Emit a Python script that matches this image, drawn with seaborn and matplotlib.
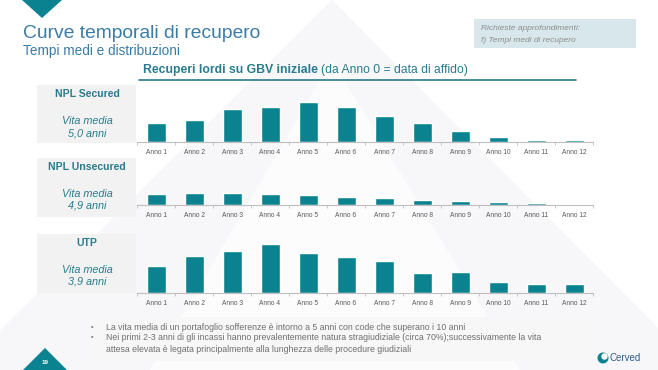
import matplotlib
matplotlib.use("Agg")
import matplotlib.pyplot as plt
from matplotlib.patches import Rectangle, Polygon, Circle
import seaborn as sns
import pandas as pd

# data (approx. % of initial GBV recovered per year)
anni = ["Anno 1", "Anno 2", "Anno 3", "Anno 4", "Anno 5", "Anno 6",
        "Anno 7", "Anno 8", "Anno 9", "Anno 10", "Anno 11", "Anno 12"]
npl_secured = [3.8, 4.4, 6.6, 7.0, 7.9, 6.9, 5.2, 3.8, 2.2, 1.0, 0.4, 0.4]
npl_unsecured = [2.3, 2.5, 2.5, 2.3, 2.0, 1.6, 1.4, 1.0, 0.8, 0.7, 0.5, 0.3]
utp = [5.4, 7.4, 8.5, 9.9, 8.1, 7.3, 6.4, 4.1, 4.3, 2.3, 1.9, 1.9]
nomi = ["NPL Secured", "NPL Unsecured", "UTP"]
vita_media = ["5,0", "4,9", "3,9"]

W, H = 658, 370
TEAL = "#0b8290"
TXT_TEAL = "#2a7c8c"
BLUE = "#3b7ca6"

sns.set_theme(style="white")
plt.rcParams["font.family"] = ["Liberation Sans", "DejaVu Sans"]

fig = plt.figure(figsize=(W / 100, H / 100), dpi=100)
fig.patch.set_facecolor("white")
bg = fig.add_axes([0, 0, 1, 1])
bg.set_xlim(0, W)
bg.set_ylim(H, 0)
bg.axis("off")

# faint pyramid in the background
bg.add_patch(Polygon([(332, 0), (-40, 370), (700, 370)], closed=True,
                     facecolor="#f7f6f8", edgecolor="none", zorder=0))
bg.add_patch(Polygon([(332, 60), (150, 370), (520, 370)], closed=True,
                     facecolor="#fcfcfd", edgecolor="none", zorder=0))

# decorative triangles
bg.add_patch(Polygon([(22, 0), (62, 0), (42, 18)], closed=True, facecolor=TEAL, edgecolor="none"))
bg.add_patch(Polygon([(23, 370), (67, 370), (45, 348)], closed=True, facecolor=TEAL, edgecolor="none"))
bg.text(45, 363, "19", color="white", fontsize=4.5, fontweight="bold", ha="center", va="center")

# titles
bg.text(23, 33, "Curve temporali di recupero", color=BLUE, fontsize=13.9, va="center")
bg.text(23, 51, "Tempi medi e distribuzioni", color=BLUE, fontsize=9.8, va="center")

# request box
bg.add_patch(Rectangle((474, 19), 162, 29, facecolor="#d8e7eb", edgecolor="none"))
bg.text(481, 29, "Richieste approfondimenti:", color="#8c8c8c", fontsize=6, style="italic", va="center")
bg.text(481, 40, "f) Tempi medi di recupero", color="#8c8c8c", fontsize=6, style="italic", va="center")

# chart header
bg.text(143, 70, "Recuperi lordi su GBV iniziale", color=TXT_TEAL, fontsize=8.8,
        fontweight="bold", va="center")
bg.text(321, 70, "(da Anno 0 = data di affido)", color=TXT_TEAL, fontsize=8.7, va="center")
bg.plot([139, 576], [80, 80], color=TXT_TEAL, lw=1.2)

# left info boxes
boxes = [(85, 143), (158, 217), (234, 293)]
for (y0, y1), nome, vm in zip(boxes, nomi, vita_media):
    bg.add_patch(Rectangle((37, y0), 99, y1 - y0, facecolor="#f2f2f2", edgecolor="none"))
    bg.text(87, y0 + 9, nome, color=TXT_TEAL, fontsize=7.6, fontweight="bold", ha="center", va="center")
    bg.text(87, y0 + 36, "Vita media", color=TXT_TEAL, fontsize=7.8, style="italic", ha="center", va="center")
    bg.text(87, y0 + 48, f"{vm} anni", color=TXT_TEAL, fontsize=7.8, style="italic", ha="center", va="center")

# bottom notes
bg.add_patch(Rectangle((85, 317), 505, 44, facecolor="#f7f7f7", edgecolor="none"))
notes = [
    (327, "La vita media di un portafoglio sofferenze è intorno a 5 anni con code che superano i 10 anni", True),
    (338, "Nei primi 2-3 anni di gli incassi hanno prevalentemente natura stragiudiziale (circa 70%);successivamente la vita", True),
    (349, "attesa elevata è legata principalmente alla lunghezza delle procedure giudiziali", False),
]
for y, t, bullet in notes:
    if bullet:
        bg.text(91, y, "•", color="#7f7f7f", fontsize=5.5, va="center")
    bg.text(106, y, t, color="#6f6f6f", fontsize=6.3, va="center")

# Cerved logo
bg.add_patch(Circle((603, 358), 5.5, facecolor=TEAL, edgecolor="none"))
bg.add_patch(Circle((604.5, 356.5), 3.2, facecolor="white", edgecolor="none"))
bg.text(610, 358, "Cerved", color="#2b5c8a", fontsize=7, va="center")

# bar panels: (values, baseline y px, y max) -> 5 px per unit on all panels
panels = [(npl_secured, 142, 10), (npl_unsecured, 205, 4), (utp, 293, 11)]
PX = 5
for vals, base, ymax in panels:
    h = ymax * PX
    ax = fig.add_axes([137 / W, (H - base) / H, 456 / W, h / H])
    ax.patch.set_alpha(0)
    df = pd.DataFrame({"anno": anni, "valore": vals})
    sns.barplot(data=df, x="anno", y="valore", color=TEAL, width=0.5,
                saturation=1, ax=ax)
    ax.set_ylim(0, ymax)
    ax.set_xlim(-0.5, len(anni) - 0.5)
    ax.set_xlabel("")
    ax.set_ylabel("")
    ax.set_yticks([])
    for s in ["top", "right", "left"]:
        ax.spines[s].set_visible(False)
    ax.spines["bottom"].set_color("#bfbfbf")
    ax.spines["bottom"].set_linewidth(0.8)
    ax.set_xticks([i - 0.5 for i in range(len(anni) + 1)], minor=True)
    ax.tick_params(axis="x", which="minor", length=2, color="#bfbfbf", width=0.6, bottom=True)
    ax.tick_params(axis="x", which="major", length=0, pad=5, labelsize=4.8, labelcolor="#595959")

fig.savefig("out.png", dpi=100)
